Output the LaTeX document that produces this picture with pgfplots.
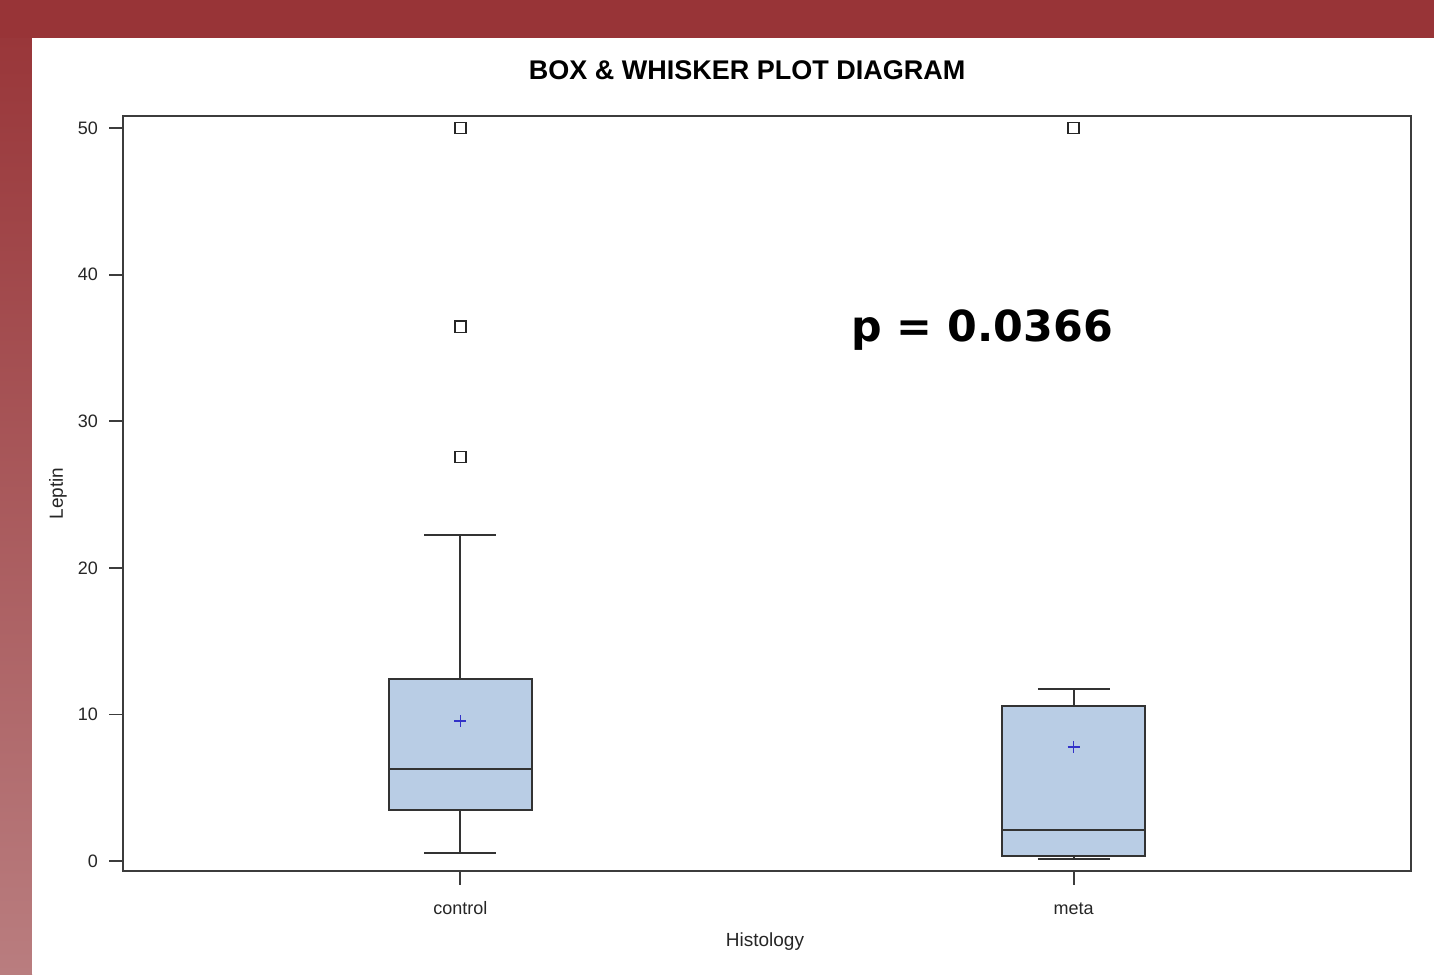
\documentclass[border=0pt]{standalone}
\usepackage{fontspec}
\setmainfont{Liberation Sans}
\newfontfamily\pfont{DejaVu Sans}
\usepackage{pgfplots}
\usepgfplotslibrary{statistics}
\pgfplotsset{compat=1.18}
\definecolor{frameTop}{RGB}{152,52,55}
\definecolor{frameBot}{RGB}{185,125,127}
\definecolor{boxfill}{RGB}{185,205,229}
\definecolor{meanblue}{RGB}{50,50,200}
\definecolor{axgray}{RGB}{60,60,60}
\begin{document}
\begin{tikzpicture}[x=1pt,y=1pt]
\fill[frameTop] (0,0) rectangle (717,487);
\shade[top color=frameTop, bottom color=frameBot] (0,0) rectangle (16,487);
\fill[frameTop] (0,468) rectangle (717,487);
\fill[white] (16,0) rectangle (717,468);
\begin{axis}[
 at={(61.5pt,51.5pt)}, anchor=south west,
 scale only axis, width=644pt, height=377.5pt,
 xmin=0.45, xmax=2.55, ymin=-0.68, ymax=50.82,
 xtick={1,2}, xticklabels={control,meta},
 ytick={0,10,20,30,40,50},
 tick pos=left, tick align=outside, major tick length=7pt,
 axis line style={axgray, line width=1pt},
 every tick/.style={axgray, line width=0.9pt},
 tick label style={font=\fontsize{9}{10}\selectfont, text=black!85},
 yticklabel style={xshift=-2pt},
 xticklabel style={yshift=-3pt, text height=1.6ex, text depth=0.4ex},
 /pgf/number format/assume math mode=true,
 clip=false,
 boxplot/draw direction=y,
 boxplot/every whisker/.style={line width=1pt, draw=black!80},
 boxplot/every median/.style={line width=0.8pt},
]
\addplot[boxplot prepared={lower whisker=0.55, lower quartile=3.48, median=6.28, upper quartile=12.41, upper whisker=22.24, draw position=1, box extend=0.233, whisker extend=0.117}, fill=boxfill, draw=black!80, line width=0.75pt, mark=square, mark size=2.8pt, mark options={line width=0.85pt, draw=black!85, fill=white}] table[row sep=\\, y index=0] {data\\ 50\\ 36.43\\ 27.56\\};
\addplot[boxplot prepared={lower whisker=0.14, lower quartile=0.34, median=2.11, upper quartile=10.57, upper whisker=11.73, draw position=2, box extend=0.233, whisker extend=0.117}, fill=boxfill, draw=black!80, line width=0.75pt, mark=square, mark size=2.8pt, mark options={line width=0.85pt, draw=black!85, fill=white}] table[row sep=\\, y index=0] {data\\ 50\\};
\addplot[only marks, mark=+, mark size=3pt, meanblue, mark options={line width=0.6pt}] coordinates {(1,9.55) (2,7.78)};
\node[rotate=90, font=\fontsize{9.5}{11}\selectfont, text=black!85] at (rel axis cs:-0.0505,0.5) {Leptin};
\node[font=\fontsize{9.5}{11}\selectfont, text=black!85] at (rel axis cs:0.4984,-0.094) {Histology};
\node[font=\bfseries\fontsize{13.5}{16}\selectfont] at (rel axis cs:0.4845,1.061) {BOX \& WHISKER PLOT DIAGRAM};
\node[font=\pfont\bfseries\fontsize{21.4}{24}\selectfont, anchor=base, inner sep=0pt] at (rel axis cs:0.667,0.7007) {p = 0.0366};
\end{axis}
\pgfresetboundingbox
\useasboundingbox (0,0) rectangle (717,487);
\end{tikzpicture}
\end{document}
